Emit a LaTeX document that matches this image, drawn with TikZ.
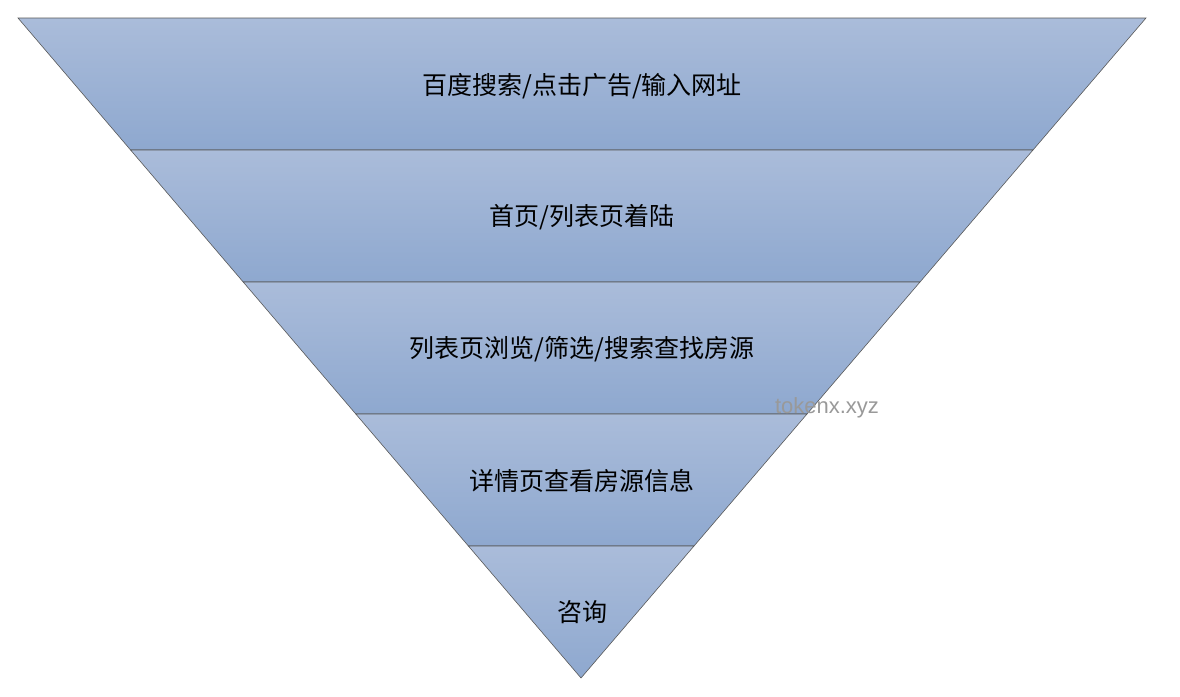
\documentclass[tikz,border=0pt]{standalone}
\usepackage{fontspec}
\newfontfamily\cjk{Noto Sans CJK SC}
\newfontfamily\wm{Liberation Sans}
\begin{document}
\begin{tikzpicture}[x=1pt,y=-1pt,
  lbl/.style={font=\cjk\fontsize{25}{30}\selectfont,text=black}]
\definecolor{topc}{HTML}{AABCDA}
\definecolor{botc}{HTML}{8EA8CF}
\tikzset{band/.style={draw=black!65,line width=0.6pt,top color=topc,bottom color=botc}}
\useasboundingbox (0,0) rectangle (1180,696);
\foreach \a/\b in {18/150,150/282,282/414,414/546}{
  \pgfmathsetmacro\la{18+(\a-18)/660*563}
  \pgfmathsetmacro\lb{18+(\b-18)/660*563}
  \pgfmathsetmacro\ra{1146-(\a-18)/660*565}
  \pgfmathsetmacro\rb{1146-(\b-18)/660*565}
  \path[band] (\la,\a) -- (\ra,\a) -- (\rb,\b) -- (\lb,\b) -- cycle;
}
\pgfmathsetmacro\la{18+(546-18)/660*563}
\pgfmathsetmacro\ra{1146-(546-18)/660*565}
\path[band] (\la,546) -- (\ra,546) -- (581,678) -- cycle;
\node[lbl] (t1) at (582,86) {百度搜索/点击广告/输入网址};
\node[lbl] (t2) at (582,217) {首页/列表页着陆};
\node[lbl] (t3) at (582,349) {列表页浏览/筛选/搜索查找房源};
\node[lbl] (t4) at (582,481) {详情页查看房源信息};
\node[lbl] (t5) at (582,612) {咨询};
\node[font=\wm\fontsize{22}{26}\selectfont,text=black!40] (wm) at (827,408) {tokenx.xyz};
\end{tikzpicture}
\end{document}
